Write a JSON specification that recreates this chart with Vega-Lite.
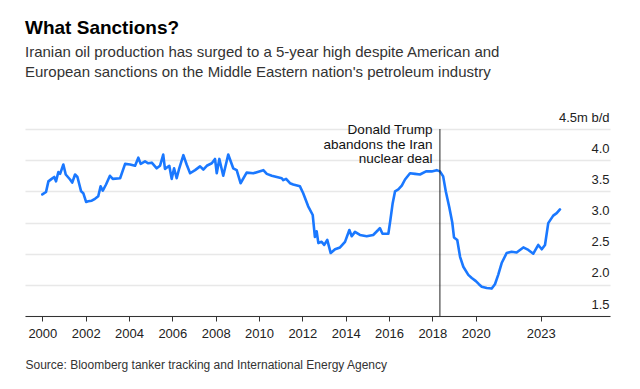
{
  "$schema": "https://vega.github.io/schema/vega-lite/v6.json",
  "width": 585,
  "height": 187,
  "autosize": {"type": "none"},
  "padding": {"left": 25, "top": 129, "right": 30, "bottom": 73},
  "background": "white",
  "title": {
    "text": "What Sanctions?",
    "subtitle": ["Iranian oil production has surged to a 5-year high despite American and", "European sanctions on the Middle Eastern nation's petroleum industry"],
    "anchor": "start",
    "frame": "group",
    "offset": 31,
    "font": "Liberation Sans",
    "fontSize": 19,
    "fontWeight": "bold",
    "color": "#000000",
    "subtitleFont": "Liberation Sans",
    "subtitleFontSize": 15,
    "subtitleColor": "#333333",
    "subtitleLineHeight": 20,
    "subtitlePadding": 7
  },
  "config": {
    "view": {"stroke": null},
    "font": "Liberation Sans",
    "axis": {"labelOverlap": false, "labelFlush": false},
    "axisY": {"labelOverlap": false, "labelBound": false}
  },
  "resolve": {"axis": {"y": "independent"}},
  "encoding": {
    "x": {
      "field": "year",
      "type": "quantitative",
      "scale": {"domain": [1999.2, 2026.2], "nice": false, "zero": false},
      "axis": {
        "values": [2000, 2002, 2004, 2006, 2008, 2010, 2012, 2014, 2016, 2018, 2020, 2023],
        "format": "d",
        "grid": false,
        "tickSize": 5,
        "tickColor": "#333333",
        "domainColor": "#333333",
        "domainWidth": 1,
        "labelFontSize": 13,
        "labelColor": "#222222",
        "labelPadding": 6,
        "labelFlush": false,
        "labelOverlap": false,
        "zindex": 1,
        "title": "Source: Bloomberg tanker tracking and International Energy Agency",
        "titleAnchor": "start",
        "titleAlign": "left",
        "titleBaseline": "alphabetic",
        "titleX": 0,
        "titleY": 52,
        "titleFontSize": 12,
        "titleFontWeight": "normal",
        "titleColor": "#333333"
      }
    }
  },
  "layer": [
    {
      "data": {"values": [
        {"year": 2000.0, "value": 3.45}, {"year": 2000.17, "value": 3.49}, {"year": 2000.28, "value": 3.66},
        {"year": 2000.43, "value": 3.70}, {"year": 2000.55, "value": 3.73}, {"year": 2000.63, "value": 3.66},
        {"year": 2000.74, "value": 3.81}, {"year": 2000.82, "value": 3.78}, {"year": 2000.97, "value": 3.93},
        {"year": 2001.08, "value": 3.77}, {"year": 2001.28, "value": 3.69}, {"year": 2001.38, "value": 3.64},
        {"year": 2001.51, "value": 3.77}, {"year": 2001.62, "value": 3.73}, {"year": 2001.79, "value": 3.50},
        {"year": 2001.89, "value": 3.47}, {"year": 2002.02, "value": 3.33}, {"year": 2002.12, "value": 3.34},
        {"year": 2002.28, "value": 3.35}, {"year": 2002.43, "value": 3.38}, {"year": 2002.58, "value": 3.42},
        {"year": 2002.69, "value": 3.58}, {"year": 2002.79, "value": 3.51}, {"year": 2002.94, "value": 3.61},
        {"year": 2003.12, "value": 3.75}, {"year": 2003.25, "value": 3.70}, {"year": 2003.59, "value": 3.71},
        {"year": 2003.82, "value": 3.94}, {"year": 2004.05, "value": 3.93}, {"year": 2004.28, "value": 3.91},
        {"year": 2004.43, "value": 4.04}, {"year": 2004.54, "value": 3.94}, {"year": 2004.74, "value": 3.98},
        {"year": 2004.89, "value": 3.95}, {"year": 2005.05, "value": 3.96}, {"year": 2005.28, "value": 3.87},
        {"year": 2005.43, "value": 3.91}, {"year": 2005.58, "value": 4.09}, {"year": 2005.66, "value": 3.86},
        {"year": 2005.86, "value": 3.91}, {"year": 2005.97, "value": 3.70}, {"year": 2006.08, "value": 3.87},
        {"year": 2006.2, "value": 3.71}, {"year": 2006.32, "value": 3.87}, {"year": 2006.51, "value": 4.08},
        {"year": 2006.66, "value": 3.93}, {"year": 2006.82, "value": 3.79}, {"year": 2007.05, "value": 3.84},
        {"year": 2007.28, "value": 3.90}, {"year": 2007.43, "value": 3.85}, {"year": 2007.59, "value": 3.91},
        {"year": 2007.82, "value": 3.95}, {"year": 2007.97, "value": 4.02}, {"year": 2008.05, "value": 3.79},
        {"year": 2008.17, "value": 4.02}, {"year": 2008.35, "value": 3.75}, {"year": 2008.58, "value": 4.09},
        {"year": 2008.81, "value": 3.87}, {"year": 2008.97, "value": 3.84}, {"year": 2009.15, "value": 3.63},
        {"year": 2009.43, "value": 3.80}, {"year": 2009.74, "value": 3.79}, {"year": 2010.2, "value": 3.84},
        {"year": 2010.36, "value": 3.78}, {"year": 2010.59, "value": 3.75}, {"year": 2010.82, "value": 3.73},
        {"year": 2011.05, "value": 3.71}, {"year": 2011.12, "value": 3.68}, {"year": 2011.25, "value": 3.70},
        {"year": 2011.43, "value": 3.63}, {"year": 2011.58, "value": 3.61}, {"year": 2011.89, "value": 3.58},
        {"year": 2012.04, "value": 3.47}, {"year": 2012.27, "value": 3.26}, {"year": 2012.48, "value": 3.12},
        {"year": 2012.58, "value": 2.77}, {"year": 2012.66, "value": 2.86}, {"year": 2012.74, "value": 2.67},
        {"year": 2012.89, "value": 2.69}, {"year": 2013.01, "value": 2.64}, {"year": 2013.15, "value": 2.72},
        {"year": 2013.31, "value": 2.51}, {"year": 2013.51, "value": 2.57}, {"year": 2013.74, "value": 2.60},
        {"year": 2013.97, "value": 2.69}, {"year": 2014.17, "value": 2.88}, {"year": 2014.28, "value": 2.78},
        {"year": 2014.43, "value": 2.85}, {"year": 2014.66, "value": 2.80}, {"year": 2014.97, "value": 2.78},
        {"year": 2015.27, "value": 2.80}, {"year": 2015.5, "value": 2.88}, {"year": 2015.58, "value": 2.91},
        {"year": 2015.7, "value": 2.82}, {"year": 2015.97, "value": 2.82}, {"year": 2016.06, "value": 3.03},
        {"year": 2016.17, "value": 3.31}, {"year": 2016.28, "value": 3.50}, {"year": 2016.43, "value": 3.53},
        {"year": 2016.59, "value": 3.59}, {"year": 2016.74, "value": 3.69}, {"year": 2016.97, "value": 3.79},
        {"year": 2017.2, "value": 3.78}, {"year": 2017.43, "value": 3.77}, {"year": 2017.71, "value": 3.82},
        {"year": 2017.97, "value": 3.82}, {"year": 2018.2, "value": 3.84}, {"year": 2018.35, "value": 3.82},
        {"year": 2018.5, "value": 3.74}, {"year": 2018.62, "value": 3.50}, {"year": 2018.78, "value": 3.25},
        {"year": 2018.92, "value": 3.00}, {"year": 2019.0, "value": 2.76}, {"year": 2019.15, "value": 2.72},
        {"year": 2019.28, "value": 2.45}, {"year": 2019.43, "value": 2.29}, {"year": 2019.66, "value": 2.16},
        {"year": 2019.82, "value": 2.11}, {"year": 2020.01, "value": 2.06}, {"year": 2020.15, "value": 2.01},
        {"year": 2020.28, "value": 1.97}, {"year": 2020.51, "value": 1.95}, {"year": 2020.74, "value": 1.94},
        {"year": 2020.89, "value": 2.01}, {"year": 2021.04, "value": 2.16}, {"year": 2021.2, "value": 2.35},
        {"year": 2021.43, "value": 2.51}, {"year": 2021.66, "value": 2.53}, {"year": 2021.89, "value": 2.52},
        {"year": 2022.2, "value": 2.60}, {"year": 2022.43, "value": 2.56}, {"year": 2022.66, "value": 2.50},
        {"year": 2022.89, "value": 2.64}, {"year": 2023.05, "value": 2.57}, {"year": 2023.2, "value": 2.64},
        {"year": 2023.35, "value": 2.99}, {"year": 2023.58, "value": 3.11}, {"year": 2023.74, "value": 3.15},
        {"year": 2023.89, "value": 3.21}
      ]},
      "mark": {"type": "line", "color": "#1a78ff", "strokeWidth": 2.6, "strokeJoin": "round", "strokeCap": "round"},
      "encoding": {
        "y": {
          "field": "value",
          "type": "quantitative",
          "scale": {"domain": [1.5, 4.5], "nice": false, "zero": false},
          "axis": {
            "orient": "right",
            "values": [1.5, 2, 2.5, 3, 3.5, 4, 4.5],
            "labelExpr": "datum.value == 4.5 ? '4.5m b/d' : format(datum.value, '.1f')",
            "grid": true,
            "gridColor": "#e8e8e8",
            "gridWidth": 1.5,
            "domain": false,
            "ticks": false,
            "labelAlign": "right",
            "labelBaseline": "alphabetic",
            "labelOffset": -8,
            "labelPadding": -1,
            "labelFontSize": 13,
            "labelColor": "#222222",
            "labelBound": false,
            "labelFlush": false,
            "labelOverlap": false,
            "title": null
          }
        }
      }
    },
    {
      "data": {"values": [{"year": 2018.35, "label": "Donald Trump\nabandons the Iran\nnuclear deal"}]},
      "mark": {"type": "rule", "color": "#222222", "strokeWidth": 1},
      "encoding": {}
    },
    {
      "data": {"values": [{"year": 2018.35, "label": "Donald Trump\nabandons the Iran\nnuclear deal"}]},
      "mark": {"type": "text", "align": "right", "baseline": "alphabetic", "dx": -7.5, "fontSize": 13.5, "lineHeight": 14.7, "lineBreak": "\n", "color": "#111111"},
      "encoding": {
        "y": {"datum": 4.42, "type": "quantitative", "axis": null},
        "text": {"field": "label"}
      }
    }
  ]
}
